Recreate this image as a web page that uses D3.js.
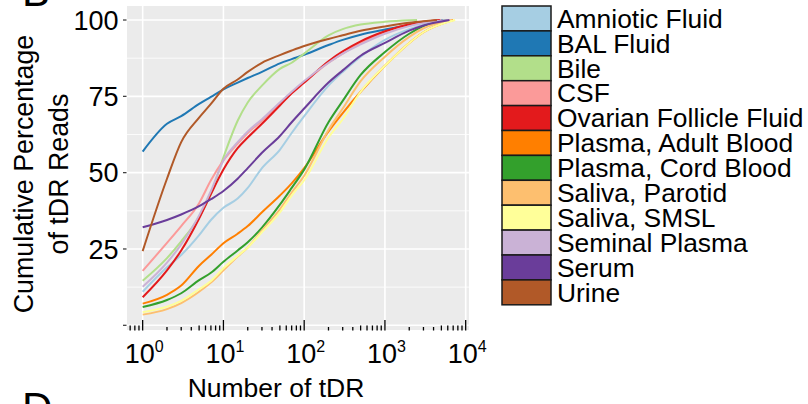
<!DOCTYPE html>
<html>
<head>
<meta charset="utf-8">
<script src="https://cdn.jsdelivr.net/npm/d3@7"></script>
<style>
  body { margin: 0; background: #fff; }
  text { font-family: "Liberation Sans", Arial, Helvetica, sans-serif; fill: #000; }
</style>
</head>
<body>
<svg id="chart" width="808" height="404"></svg>
<script>
// sample types, in legend order
var samples = ["Amniotic Fluid", "BAL Fluid", "Bile", "CSF", "Ovarian Follicle Fluid",
  "Plasma, Adult Blood", "Plasma, Cord Blood", "Saliva, Parotid", "Saliva, SMSL",
  "Seminal Plasma", "Serum", "Urine"];
var colors = ["#a6cee3", "#1f78b4", "#b2df8a", "#fb9a99", "#e31a1c", "#ff7f00",
  "#33a02c", "#fdbf6f", "#ffff99", "#cab2d6", "#6a3d9a", "#b15928"];

// number of tDR where each curve is read
var xGrid = [1, 2, 3, 5, 7, 10, 15, 20, 30, 50, 70, 100, 200, 300, 500, 1000, 2000, 3000];

// cumulative % of reads at each xGrid value
var amniotic = [11, 19, 23, 29.5, 34.5, 38.5, 41.5, 45, 51.5, 57.5, 63, 68.5, 78.5, 83, 88, 93.5, 97, 98.5];
var bal      = [56.9, 66, 68.5, 72.5, 74.8, 77.3, 79.5, 81, 83, 85.8, 87.2, 88.6, 91.8, 93.5, 95.2, 96.9, 98.4, 99.2];
var bile     = [14.6, 22, 27.5, 35.5, 43, 55, 67, 73, 78.5, 84, 86, 89, 95, 97, 98.5, 99.4, 99.9, null];
var csf      = [17.8, 27, 32.5, 40, 47.5, 54, 59.5, 63, 67, 72.5, 76, 79.5, 86, 89, 92.5, 96, 98.5, 99.3];
var ovarian  = [9.2, 18, 24.5, 35, 43, 51, 58, 61.5, 66, 72, 76, 79.5, 86.5, 89.7, 93, 96.3, 98.6, 99.4];
var plasmaAdult = [7.1, 10, 13, 19.5, 23, 26.9, 30, 32.5, 37, 42.5, 46.5, 51.5, 63.5, 69.5, 76.5, 85, 92.5, 96];
var plasmaCord  = [6, 8.3, 10.5, 14.8, 17.2, 20.8, 24.5, 27.2, 32, 39.5, 45, 51, 66.5, 73.5, 82, 89.5, 95.5, 98];
var parotid  = [3.5, 5.3, 7.3, 11, 14, 18, 22.5, 25.5, 31, 38, 43.5, 49, 64, 71, 80, 88, 94.5, 97.3];
var smsl     = [4.3, 6.1, 8, 11.8, 14.5, 18.7, 22.7, 25.5, 30.5, 37, 42.5, 47.5, 61.5, 67.5, 76.5, 85, 92.5, 96];
var seminal  = [12.6, 20.5, 26.5, 36, 44, 54, 60, 63.5, 67.5, 73, 76.5, 80, 86, 89, 92, 95.5, 98, 99];
var serum    = [32.1, 34.5, 36.3, 39, 41.3, 44, 48, 51.5, 56.5, 62, 66.5, 71, 79.5, 83.5, 88.3, 92.5, 96.5, 98.2];
var urine    = [24.3, 48, 60, 68, 72.5, 77.5, 80.5, 83, 86, 88.5, 90, 91.5, 93.8, 95, 96.5, 97.9, 99.1, 99.6];

// total tDR count per sample type (curve reaches 100 there)
var endX = [5500, 5200, 2500, 5000, 4800, 7000, 5900, 6800, 7400, 6000, 6300, 4400];

var yTicks = [0, 25, 50, 75, 100];
var yTickLabels = ["", "25", "50", "75", "100"];
var yMinor = [12.5, 37.5, 62.5, 87.5];
var xDecades = [1, 10, 100, 1000, 10000];
var xExponents = ["0", "1", "2", "3", "4"];

var curves = [amniotic, bal, bile, csf, ovarian, plasmaAdult, plasmaCord,
  parotid, smsl, seminal, serum, urine];

var svg = d3.select("#chart");

var x = d3.scaleLog().domain([0.6397, 10990]).range([127, 469]);
var y = d3.scaleLinear().domain([-1.54, 104.59]).range([330, 6]);

// panel
svg.append("rect")
  .attr("x", 127).attr("y", 6)
  .attr("width", 342).attr("height", 324)
  .attr("fill", "#ebebeb");

svg.selectAll(".minor").data(yMinor).enter().append("line")
  .attr("x1", 127).attr("x2", 469)
  .attr("y1", d => y(d)).attr("y2", d => y(d))
  .attr("stroke", "#fff").attr("stroke-width", 0.8);

svg.selectAll(".hmajor").data(yTicks).enter().append("line")
  .attr("x1", 127).attr("x2", 469)
  .attr("y1", d => y(d)).attr("y2", d => y(d))
  .attr("stroke", "#fff").attr("stroke-width", 1.6);

svg.selectAll(".vmajor").data(xDecades).enter().append("line")
  .attr("y1", 6).attr("y2", 330)
  .attr("x1", d => x(d)).attr("x2", d => x(d))
  .attr("stroke", "#fff").attr("stroke-width", 1.6);

// log ticks along the bottom of the panel
var logTicks = [];
for (var k = -1; k <= 4; k++) {
  for (var m = 1; m <= 9; m++) {
    var v = m * Math.pow(10, k);
    if (v >= x.domain()[0] && v <= x.domain()[1]) logTicks.push({v: v, m: m});
  }
}
svg.selectAll(".logtick").data(logTicks).enter().append("line")
  .attr("x1", d => x(d.v)).attr("x2", d => x(d.v))
  .attr("y1", 330.5)
  .attr("y2", d => 330.5 - (d.m == 1 ? 10.5 : (d.m >= 5 ? 5 : 3.5)))
  .attr("stroke", "#000").attr("stroke-width", 1.3);

// curves
var line = d3.line()
  .x(d => x(d[0]))
  .y(d => y(d[1]))
  .curve(d3.curveMonotoneX);

curves.forEach(function(vals, i) {
  var pts = [];
  xGrid.forEach(function(xv, j) {
    if (vals[j] != null && xv < endX[i]) pts.push([xv, vals[j]]);
  });
  pts.push([endX[i], 100]);
  svg.append("path")
    .datum(pts)
    .attr("d", line)
    .attr("fill", "none")
    .attr("stroke", colors[i])
    .attr("stroke-width", 2)
    .attr("stroke-linejoin", "round");
});

// y axis
svg.selectAll(".ytick").data(yTicks).enter().append("line")
  .attr("x1", 123).attr("x2", 126.5)
  .attr("y1", d => y(d)).attr("y2", d => y(d))
  .attr("stroke", "#333").attr("stroke-width", 1.2);

svg.selectAll(".ylab").data(yTicks).enter().append("text")
  .attr("x", 118.5)
  .attr("y", d => y(d) + 9.6)
  .attr("text-anchor", "end")
  .style("font-size", "27px")
  .text((d, i) => yTickLabels[i]);

// x axis labels 10^n
var xl = svg.selectAll(".xlab").data(xDecades).enter().append("text")
  .attr("x", d => x(d) + 1.5)
  .attr("y", 363)
  .attr("text-anchor", "middle")
  .style("font-size", "27px");
xl.append("tspan").text("10");
xl.append("tspan")
  .attr("dy", -11)
  .style("font-size", "16px")
  .text((d, i) => xExponents[i]);

// axis titles
svg.append("text")
  .attr("x", 276).attr("y", 397)
  .attr("text-anchor", "middle")
  .style("font-size", "26.5px")
  .text("Number of tDR");

var yt = svg.append("text")
  .attr("transform", "translate(33.3,174) rotate(-90)")
  .attr("text-anchor", "middle")
  .style("font-size", "26.8px");
yt.append("tspan").attr("x", 0).attr("y", 0).text("Cumulative Percentage");
yt.append("tspan").attr("x", 0).attr("y", 35).text("of tDR Reads");

// panel letters cut by the figure crop
svg.append("text").attr("x", 22).attr("y", 5.5)
  .style("font-size", "42px").text("B");
svg.append("text").attr("x", 22).attr("y", 422)
  .style("font-size", "42px").text("D");

// legend
var rowH = 24.9;
var lg = svg.selectAll(".key").data(samples).enter().append("g")
  .attr("transform", (d, i) => "translate(0," + (6 + i * rowH) + ")");
lg.append("rect")
  .attr("x", 502).attr("y", 0)
  .attr("width", 49).attr("height", rowH)
  .attr("fill", (d, i) => colors[i])
  .attr("stroke", "#1a1a1a").attr("stroke-width", 1.5);
lg.append("text")
  .attr("x", 557)
  .attr("y", rowH / 2 + 9.3)
  .style("font-size", "26.4px")
  .text(d => d);
</script>
</body>
</html>
